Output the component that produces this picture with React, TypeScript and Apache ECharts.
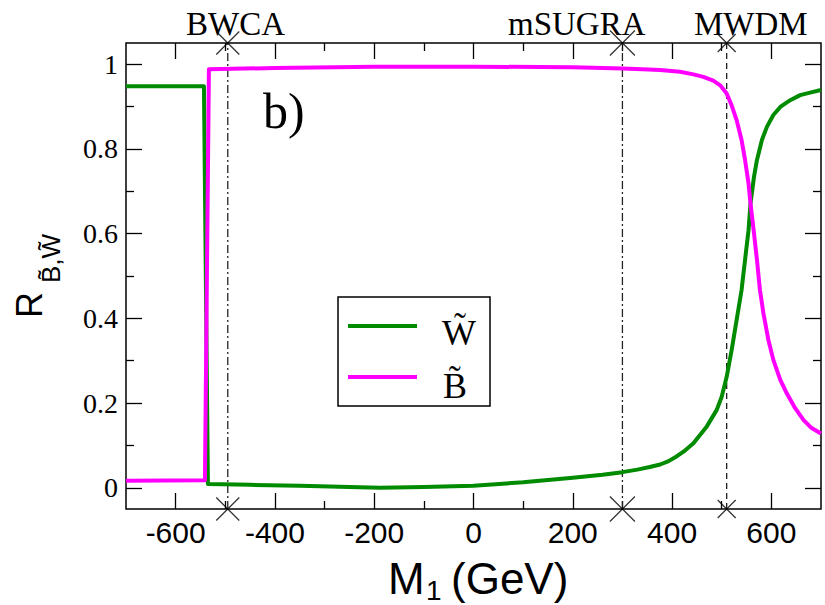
import React, { useEffect, useRef } from 'react';
import * as echarts from 'echarts';

// Wino fraction R_W~ vs M1 (GeV)
const winoM1 = [-700, -543, -535, -450, -350, -250, -188, -100, 0, 100, 200, 260, 300, 330, 355, 376, 393, 409, 426, 443, 470, 490, 500, 510, 520, 530, 540, 547, 554, 558, 565, 571, 581, 591, 604, 618, 638, 658, 678, 700];
const winoR = [0.948, 0.948, 0.009, 0.007, 0.005, 0.002, 0.0, 0.002, 0.005, 0.013, 0.024, 0.031, 0.037, 0.043, 0.049, 0.055, 0.063, 0.074, 0.088, 0.105, 0.145, 0.184, 0.215, 0.262, 0.325, 0.396, 0.467, 0.538, 0.608, 0.671, 0.734, 0.774, 0.821, 0.852, 0.880, 0.899, 0.915, 0.927, 0.933, 0.939];
// Bino fraction R_B~ vs M1 (GeV)
const binoM1 = [-700, -541, -533, -400, -200, 0, 200, 300, 340, 376, 416, 443, 463, 483, 497, 510, 520, 530, 540, 547, 554, 558, 565, 571, 577, 584, 594, 604, 618, 631, 648, 665, 681, 700];
const binoR = [0.0165, 0.018, 0.988, 0.991, 0.994, 0.994, 0.993, 0.99, 0.988, 0.986, 0.982, 0.976, 0.970, 0.961, 0.950, 0.931, 0.903, 0.868, 0.821, 0.774, 0.719, 0.671, 0.601, 0.538, 0.467, 0.412, 0.349, 0.302, 0.255, 0.223, 0.188, 0.160, 0.141, 0.128];

const xMajorTicks = [-600, -400, -200, 0, 200, 400, 600];
const xMinorTicks = [-500, -300, -100, 100, 300, 500];
const yMajorTicks = [0, 0.2, 0.4, 0.6, 0.8, 1];
const yMinorTicks = [0.1, 0.3, 0.5, 0.7, 0.9];

const benchmarkNames = ['BWCA', 'mSUGRA', 'MWDM'];
const benchmarkM1 = [-495, 300, 510];

const X_MIN = -700, X_MAX = 700, Y_MIN = -0.05, Y_MAX = 1.05;

function mkX(position: string, ticks: number[], len: number, labels: boolean) {
  return {
    type: 'value', min: X_MIN, max: X_MAX, position,
    axisLine: { show: false, onZero: false },
    splitLine: { show: false },
    axisTick: { show: true, inside: true, length: len, customValues: ticks, lineStyle: { color: '#000', width: 1.3 } },
    axisLabel: labels
      ? { show: true, customValues: ticks, margin: 8, fontFamily: 'Liberation Sans', fontSize: 30, color: '#000' }
      : { show: false },
  };
}
function mkY(position: string, ticks: number[], len: number, labels: boolean) {
  return {
    type: 'value', min: Y_MIN, max: Y_MAX, position,
    axisLine: { show: false, onZero: false },
    splitLine: { show: false },
    axisTick: { show: true, inside: true, length: len, customValues: ticks, lineStyle: { color: '#000', width: 1.3 } },
    axisLabel: labels
      ? { show: true, customValues: ticks, margin: 8, fontFamily: 'Liberation Serif', fontSize: 28, color: '#000',
          formatter: (v: number) => String(Math.round(v * 10) / 10) }
      : { show: false },
  };
}

export default function App() {
  const ref = useRef<HTMLDivElement>(null);
  useEffect(() => {
    if (!ref.current) return;
    const chart = echarts.init(ref.current, undefined, { renderer: 'svg' });
    const crossSizes = [23, 25, 18];
    const lineTypes: any[] = [[8, 3, 2, 3], [8, 3, 2, 3], [6, 4]];
    const vlines = benchmarkM1.map((m, i) => ({
      type: 'line', name: benchmarkNames[i] + ' line', data: [[m, Y_MIN], [m, Y_MAX]],
      symbol: 'none', silent: true, z: 1,
      lineStyle: { color: '#222', width: 1.3, type: lineTypes[i] },
    }));
    const crosses = {
      type: 'scatter', name: 'benchmarks', clip: false, silent: true, z: 5,
      symbol: 'path://M0 0L10 10M10 0L0 10',
      itemStyle: { color: 'none', borderColor: '#000', borderWidth: 1.3 },
      data: benchmarkM1.flatMap((m, i) => [
        { value: [m, Y_MAX], symbolSize: crossSizes[i] },
        { value: [m, Y_MIN], symbolSize: crossSizes[i] },
      ]),
    };
    const benchLabelX = [186, 508, 694];
    const option: any = {
      animation: false,
      backgroundColor: '#fff',
      grid: { left: 126, right: 4, top: 43, bottom: 96, show: true, borderColor: '#000', borderWidth: 1.5 },
      xAxis: [
        mkX('bottom', xMajorTicks, 16, true),
        mkX('bottom', xMinorTicks, 8, false),
        mkX('top', xMajorTicks, 16, false),
        mkX('top', xMinorTicks, 8, false),
      ],
      yAxis: [
        mkY('left', yMajorTicks, 16, true),
        mkY('left', yMinorTicks, 8, false),
        mkY('right', yMajorTicks, 16, false),
        mkY('right', yMinorTicks, 8, false),
      ],
      series: [
        ...vlines,
        {
          type: 'line', name: 'W\u0303', data: winoM1.map((m, i) => [m, winoR[i]]),
          symbol: 'none', z: 3, lineStyle: { color: '#008b00', width: 4, join: 'round' }, itemStyle: { color: '#008b00' },
        },
        {
          type: 'line', name: 'B\u0303', data: binoM1.map((m, i) => [m, binoR[i]]),
          symbol: 'none', z: 3, lineStyle: { color: '#ff00ff', width: 4, join: 'round' }, itemStyle: { color: '#ff00ff' },
        },
        crosses,
      ],
      graphic: [
        ...benchmarkNames.map((n, i) => ({
          type: 'text', x: benchLabelX[i], y: 24,
          style: { text: n, font: '33px "Liberation Serif"', fill: '#000', textAlign: 'left', textVerticalAlign: 'middle' },
        })),
        { type: 'text', x: 263, y: 111, style: { text: 'b)', font: '50px "Liberation Serif"', fill: '#000', textAlign: 'left', textVerticalAlign: 'middle' } },
        // legend box
        { type: 'rect', shape: { x: 338, y: 297, width: 152, height: 109 }, style: { fill: '#fff', stroke: '#000', lineWidth: 1.5 }, z: 10 },
        { type: 'line', shape: { x1: 348, y1: 326, x2: 417, y2: 326 }, style: { stroke: '#008b00', lineWidth: 4 }, z: 11 },
        { type: 'line', shape: { x1: 348, y1: 377, x2: 417, y2: 377 }, style: { stroke: '#ff00ff', lineWidth: 4 }, z: 11 },
        { type: 'text', x: 442, y: 333, z: 11, style: { text: 'W\u0303', font: '36px "Liberation Serif"', fill: '#000', textAlign: 'left', textVerticalAlign: 'middle' } },
        { type: 'text', x: 443, y: 386, z: 11, style: { text: 'B\u0303', font: '36px "Liberation Serif"', fill: '#000', textAlign: 'left', textVerticalAlign: 'middle' } },
        // x axis title
        { type: 'text', x: 388, y: 578, style: { text: 'M', font: '44px "Liberation Sans"', fill: '#000', textAlign: 'left', textVerticalAlign: 'middle' } },
        { type: 'text', x: 426, y: 590, style: { text: '1', font: '28px "Liberation Sans"', fill: '#000', textAlign: 'left', textVerticalAlign: 'middle' } },
        { type: 'text', x: 451, y: 578, style: { text: '(GeV)', font: '44px "Liberation Sans"', fill: '#000', textAlign: 'left', textVerticalAlign: 'middle' } },
        // y axis title (rotated)
        {
          type: 'group', x: 42, y: 318, rotation: Math.PI / 2,
          children: [
            { type: 'text', x: 0, y: -13, style: { text: 'R', font: '36px "Liberation Sans"', fill: '#000', textAlign: 'left', textVerticalAlign: 'middle' } },
            { type: 'text', x: 35, y: 9, style: { text: 'B\u0303,W\u0303', font: '26px "Liberation Sans"', fill: '#000', textAlign: 'left', textVerticalAlign: 'middle' } },
          ],
        },
      ],
    };
    chart.setOption(option);
    return () => chart.dispose();
  }, []);
  return <div ref={ref} style={{ position: 'absolute', left: 0, top: 0, width: 825, height: 605 }} />;
}
